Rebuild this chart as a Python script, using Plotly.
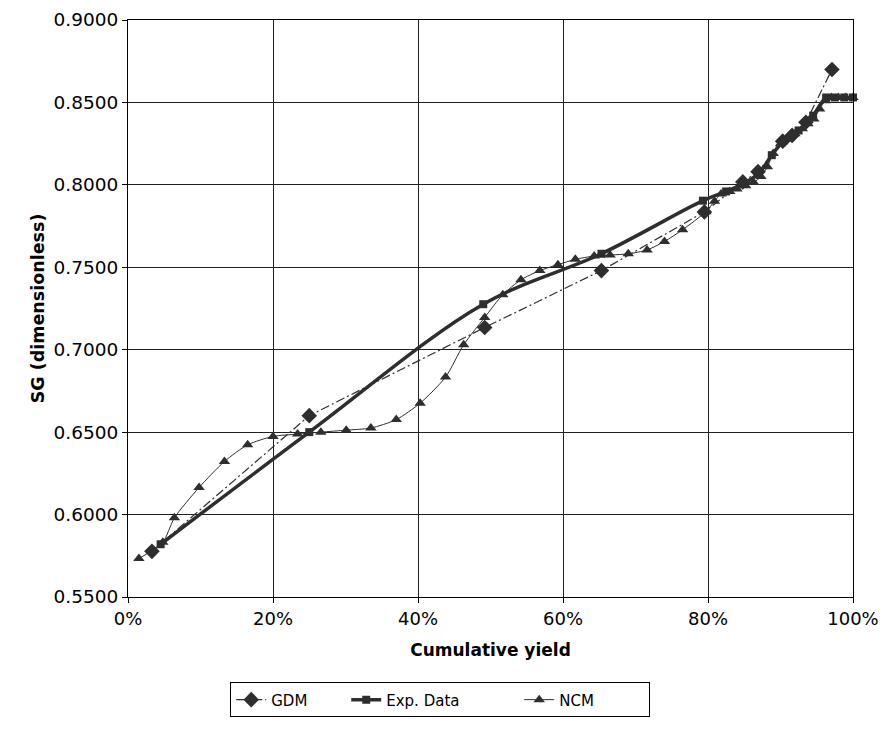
import plotly.graph_objects as go

# Cumulative yield (%) and specific gravity for each series
gdm_x = [3.3, 25.0, 49.2, 65.3, 79.5, 84.8, 86.9, 90.3, 91.6, 93.5, 97.1]
gdm_y = [0.5777, 0.6600, 0.7135, 0.7480, 0.7836, 0.8018, 0.8080, 0.8265, 0.8300, 0.8380, 0.8700]

exp_x = [4.5, 25.0, 49.0, 65.3, 79.3, 82.5, 85.0, 87.0, 88.8, 90.5, 92.5, 94.5, 96.3, 97.5, 98.8, 100.0]
exp_y = [0.5820, 0.6500, 0.7276, 0.7582, 0.7904, 0.7960, 0.8010, 0.8070, 0.8180, 0.8270, 0.8330, 0.8420,
         0.8530, 0.8530, 0.8530, 0.8530]

ncm_x = [1.5, 4.8, 6.4, 9.8, 13.3, 16.5, 20.0, 23.4, 26.6, 30.1, 33.5, 37.0, 40.3, 43.8, 46.3, 49.2,
         51.7, 54.2, 56.8, 59.3, 61.7, 64.3, 66.5, 69.0, 71.6, 74.0, 76.5, 79.7, 80.9, 81.8, 83.0, 84.0,
         85.2, 86.3, 87.3, 88.2, 89.0, 90.0, 91.0, 92.0, 93.0, 93.8, 94.6, 95.4, 96.2, 97.0, 98.0, 99.0, 100.0]
ncm_y = [0.5733, 0.5832, 0.5980, 0.6164, 0.6322, 0.6423, 0.6474, 0.6488, 0.6500, 0.6512, 0.6525, 0.6576,
         0.6676, 0.6834, 0.7030, 0.7196, 0.7334, 0.7424, 0.7480, 0.7516, 0.7548, 0.7568, 0.7574, 0.7582,
         0.7605, 0.7657, 0.7728, 0.7837, 0.7900, 0.7945, 0.7960, 0.7975, 0.7995, 0.8015, 0.8050, 0.8110,
         0.8190, 0.8250, 0.8280, 0.8310, 0.8340, 0.8370, 0.8400, 0.8460, 0.8510, 0.8530, 0.8530, 0.8530, 0.8530]

x_ticks = [0, 0.2, 0.4, 0.6, 0.8, 1.0]
y_ticks = [0.55, 0.60, 0.65, 0.70, 0.75, 0.80, 0.85, 0.90]

INK = "#2e2e2e"
FONT = "DejaVu Sans, Arial, sans-serif"


def frac(values):
    return [v / 100.0 for v in values]


fig = go.Figure()

fig.add_trace(go.Scatter(
    x=frac(gdm_x), y=gdm_y, name="GDM", mode="lines+markers",
    line=dict(color=INK, width=1.2, dash="9px,3px,2px,3px"),
    marker=dict(symbol="diamond", size=12, color=INK),
    cliponaxis=False, legendwidth=70,
))

fig.add_trace(go.Scatter(
    x=frac(exp_x), y=exp_y, name="Exp. Data", mode="lines+markers",
    line=dict(color=INK, width=3.5, shape="spline", smoothing=1.0),
    marker=dict(symbol="square", size=8, color=INK),
    cliponaxis=False, legendwidth=128,
))

fig.add_trace(go.Scatter(
    x=frac(ncm_x), y=ncm_y, name="NCM", mode="lines+markers",
    line=dict(color=INK, width=1, shape="spline", smoothing=0.7),
    marker=dict(symbol="triangle-up", size=10, color=INK),
    cliponaxis=False, legendwidth=85,
))

fig.update_layout(
    template="none",
    width=885, height=735,
    margin=dict(l=128, r=32, t=20, b=138),
    paper_bgcolor="white", plot_bgcolor="white",
    font=dict(family=FONT, size=16, color="black"),
    showlegend=True,
    legend=dict(
        orientation="h", x=0.141, xanchor="left", y=-0.148, yanchor="top",
        bordercolor="black", borderwidth=1, bgcolor="white",
        font=dict(family=FONT, size=15, color="black"),
        tracegroupgap=0,
    ),
)

fig.update_xaxes(
    range=[0, 1], tickvals=x_ticks, tickformat=".0%",
    tickfont=dict(family=FONT, size=18),
    showgrid=True, gridcolor="#202020", gridwidth=1,
    showline=True, linecolor="black", linewidth=1, mirror=True,
    ticks="outside", ticklen=5, tickcolor="black",
    zeroline=False, automargin=False,
    title=dict(text="<b>Cumulative yield</b>", font=dict(family=FONT, size=17), standoff=16),
)

fig.update_yaxes(
    range=[0.55, 0.90], tickvals=y_ticks, tickformat=".4f",
    tickfont=dict(family=FONT, size=18.5),
    showgrid=True, gridcolor="#202020", gridwidth=1,
    showline=True, linecolor="black", linewidth=1, mirror=True,
    ticks="outside", ticklen=5, tickcolor="black",
    zeroline=False, automargin=False,
    title=dict(text="<b>SG (dimensionless)</b>", font=dict(family=FONT, size=17.5), standoff=4),
)

fig.write_html("out.html")
